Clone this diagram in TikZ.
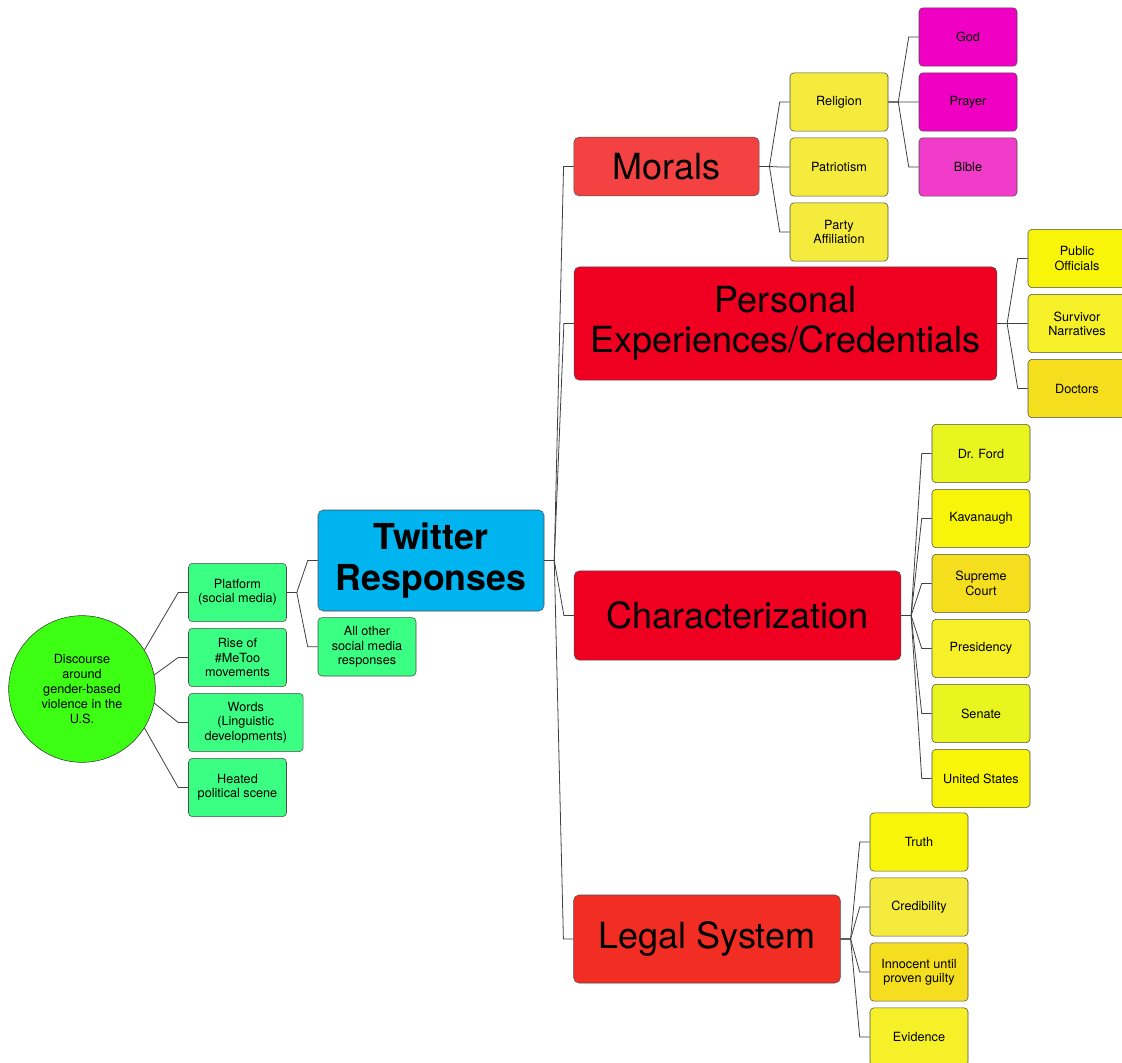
\documentclass[tikz,border=0pt]{standalone}
\usepackage{fontspec}
\setmainfont{TeX Gyre Heros}
\definecolor{mroot}{RGB}{60,255,20}
\definecolor{mgreen}{RGB}{58,255,130}
\definecolor{mblue}{RGB}{0,180,240}
\definecolor{mmorals}{RGB}{244,66,66}
\definecolor{mred}{RGB}{240,0,32}
\definecolor{mlegal}{RGB}{242,45,36}
\definecolor{myellow}{RGB}{245,240,40}
\definecolor{mlemon}{RGB}{248,245,10}
\definecolor{mpale}{RGB}{245,235,60}
\definecolor{mamber}{RGB}{245,222,30}
\definecolor{mlime}{RGB}{232,245,30}
\definecolor{mmagenta}{RGB}{240,0,195}
\definecolor{mpink}{RGB}{240,60,200}
\usetikzlibrary{positioning}
\tikzset{
  topic/.style={rectangle,rounded corners=4pt,draw=black!70,fill=#1,
    align=center,font=\fontsize{27}{30}\selectfont,inner sep=2pt},
  leaf/.style={rectangle,rounded corners=3pt,draw=black!70,fill=#1,
    minimum width=73.5pt,minimum height=43.8pt,align=center,
    font=\fontsize{9.5}{10.7}\selectfont,inner sep=1pt},
  conn/.style={draw=black!75,line width=0.6pt},
}

\begin{document}
\begin{tikzpicture}[x=0.75pt,y=-0.75pt,node distance=4.55pt]
  \useasboundingbox (0,0) rectangle (1122,1063);
  \fill[white] (0,0) rectangle (1122,1063);

  % root and first level
  \node[circle,draw=black!80,fill=mroot,minimum size=110pt,align=center,
    inner sep=0pt,font=\fontsize{9.5}{11.2}\selectfont] (circ) at (82,689)
    {Discourse\\around\\gender-based\\violence in the\\U.S.};
  \node[leaf=mgreen] (plat) at (237.5,592.5) {Platform\\(social media)};
  \node[leaf=mgreen,below=of plat] (rise) {Rise of\\\#MeToo\\movements};
  \node[leaf=mgreen,minimum width=86pt,below=of rise.south west,
    anchor=north west] (words) {Words\\(Linguistic\\developments)};
  \node[leaf=mgreen,below=of words.south west,anchor=north west] (heat)
    {Heated\\political scene};

  \node[topic=mblue,minimum width=169.5pt,minimum height=75.75pt,
    font=\bfseries\fontsize{26.8}{31}\selectfont] (twit) at (431,560.5)
    {Twitter\\Responses};
  \node[leaf=mgreen,below=of twit.south west,anchor=north west] (other)
    {All other\\social media\\responses};

  % categories
  \node[topic=mmorals,minimum width=139pt,minimum height=44pt] (morals)
    at (666.5,166.5) {Morals};
  \node[topic=mred,minimum width=317pt,minimum height=85pt] (pers)
    at (785.5,323.5) {Personal\\Experiences/Credentials};
  \node[topic=mred,minimum width=245pt,minimum height=67pt] (chr)
    at (737.5,615.5) {Characterization};
  \node[topic=mlegal,minimum width=200pt,minimum height=66pt] (legal)
    at (707,939) {Legal System};

  % morals
  \node[leaf=mpale] (rel) at (839,102) {Religion};
  \node[leaf=mpale,below=of rel] (pat) {Patriotism};
  \node[leaf=mpale,below=of pat] (party) {Party\\Affiliation};
  \node[leaf=mmagenta] (god) at (968,37) {God};
  \node[leaf=mmagenta,below=of god] (prayer) {Prayer};
  \node[leaf=mpink,below=of prayer] (bible) {Bible};

  % personal experiences
  \node[leaf=mlemon] (pub) at (1077,258.5) {Public\\Officials};
  \node[leaf=myellow,below=of pub] (surv) {Survivor\\Narratives};
  \node[leaf=mamber,below=of surv] (doc) {Doctors};

  % characterization
  \node[leaf=mlime] (ford) at (981,453.5) {Dr. Ford};
  \node[leaf=mlemon,below=of ford] (kav) {Kavanaugh};
  \node[leaf=mamber,below=of kav] (sup) {Supreme\\Court};
  \node[leaf=myellow,below=of sup] (pres) {Presidency};
  \node[leaf=mlime,below=of pres] (sen) {Senate};
  \node[leaf=mlemon,below=of sen] (us) {United States};

  % legal system
  \node[leaf=mlemon] (truth) at (919,842) {Truth};
  \node[leaf=mpale,below=of truth] (cred) {Credibility};
  \node[leaf=mamber,below=of cred] (inn) {Innocent until\\proven guilty};
  \node[leaf=myellow,below=of inn] (evid) {Evidence};

  % connectors
  \foreach \c/\a in {plat/32,rise/11,words/-11,heat/-32}
    \draw[conn] (circ.\a) -- ([xshift=-7.5pt]\c.west) -- (\c.west);
  \foreach \c in {twit,other}
    \draw[conn] (plat.east) -- ++(10,0) -- ([xshift=-7.5pt]\c.west) -- (\c.west);
  \foreach \c in {morals,pers,chr,legal}
    \draw[conn] (twit.east) -- ++(10,0) -- ([xshift=-7.5pt]\c.west) -- (\c.west);
  \foreach \c in {rel,pat,party}
    \draw[conn] (morals.east) -- ++(10,0) -- ([xshift=-7.5pt]\c.west) -- (\c.west);
  \foreach \c in {god,prayer,bible}
    \draw[conn] (rel.east) -- ++(10,0) -- ([xshift=-7.5pt]\c.west) -- (\c.west);
  \foreach \c in {pub,surv,doc}
    \draw[conn] (pers.east) -- ++(10,0) -- ([xshift=-7.5pt]\c.west) -- (\c.west);
  \foreach \c in {ford,kav,sup,pres,sen,us}
    \draw[conn] (chr.east) -- ++(10,0) -- ([xshift=-7.5pt]\c.west) -- (\c.west);
  \foreach \c in {truth,cred,inn,evid}
    \draw[conn] (legal.east) -- ++(10,0) -- ([xshift=-7.5pt]\c.west) -- (\c.west);
\end{tikzpicture}
\end{document}
